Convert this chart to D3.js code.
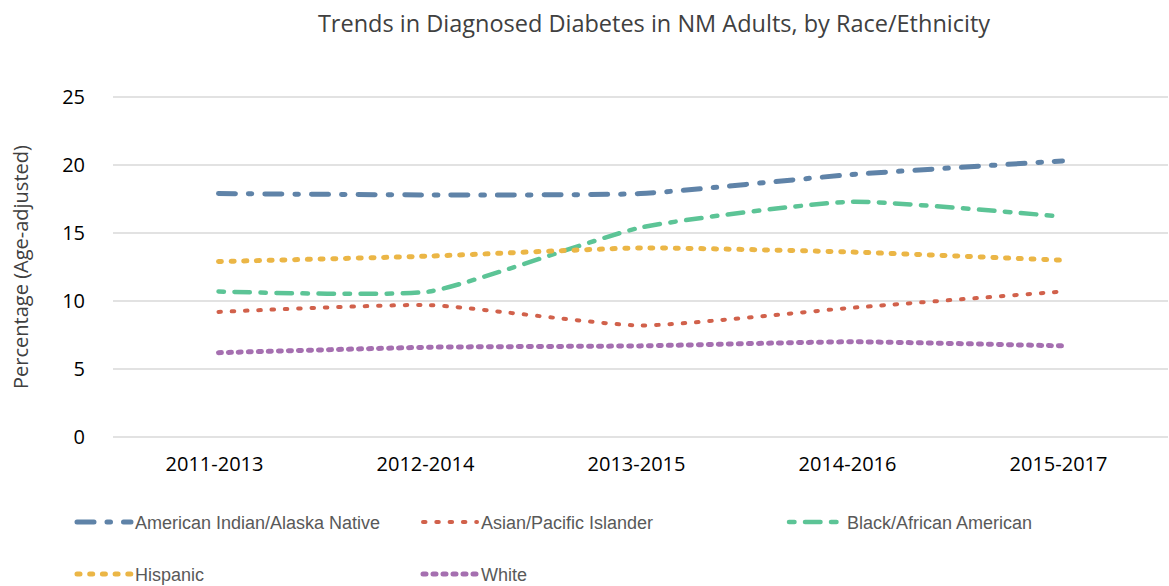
<!DOCTYPE html>
<html lang="en">
<head>
<meta charset="UTF-8">
<title>Diabetes trends</title>
<script src="https://cdn.jsdelivr.net/npm/d3@7"></script>
<style>
  body { margin: 0; background: #fff; }
  svg { display: block; }
</style>
</head>
<body>
<div id="chart"></div>
<script>
// data
var periods = ["2011-2013", "2012-2014", "2013-2015", "2014-2016", "2015-2017"];
var yTicks = [0, 5, 10, 15, 20, 25];
var aian = [17.9, 17.8, 17.9, 19.3, 20.3];
var asian = [9.2, 9.7, 8.2, 9.5, 10.7];
var black = [10.7, 10.7, 15.4, 17.3, 16.2];
var hispanic = [12.9, 13.3, 13.9, 13.6, 13.0];
var white = [6.2, 6.6, 6.7, 7.0, 6.7];

var seriesNames = ["American Indian/Alaska Native", "Asian/Pacific Islander", "Black/African American", "Hispanic", "White"];
var seriesValues = [aian, asian, black, hispanic, white];

var styles = [
  { color: "#5f83a8", width: 5, dash: "17,13,3.5,13" },
  { color: "#d1614b", width: 4, dash: "2.5,10.8" },
  { color: "#5cc496", width: 4.5, dash: "5.5,10.5,15.5,10.5" },
  { color: "#ebb646", width: 5, dash: "3,9.7" },
  { color: "#a56fb0", width: 5, dash: "3,7" }
];

var w = 1169, h = 586;
var plotLeft = 113, plotRight = 1168, plotTop = 97, plotBottom = 437;

var svg = d3.select("#chart").append("svg")
  .attr("width", w)
  .attr("height", h);

var x = d3.scaleBand()
  .domain(periods)
  .range([plotLeft, plotRight]);

var y = d3.scaleLinear()
  .domain([0, 25])
  .range([plotBottom, plotTop]);

// gridlines
svg.append("g")
  .selectAll("line")
  .data(yTicks)
  .enter()
  .append("line")
  .attr("x1", plotLeft)
  .attr("x2", plotRight)
  .attr("y1", function(d) { return y(d); })
  .attr("y2", function(d) { return y(d); })
  .attr("stroke", "#d9d9d9")
  .attr("stroke-width", 1.5);

// y tick labels
var yAxis = svg.append("g")
  .attr("transform", "translate(" + (plotLeft - 28) + ",0)")
  .call(d3.axisLeft(y).tickValues(yTicks).tickSize(0).tickPadding(0));
yAxis.select(".domain").remove();
yAxis.selectAll("text")
  .attr("font-family", "Open Sans")
  .attr("font-size", "20px")
  .attr("fill", "#000");

// x tick labels
var xAxis = svg.append("g")
  .attr("transform", "translate(-4," + plotBottom + ")")
  .call(d3.axisBottom(x).tickSize(0).tickPadding(20));
xAxis.select(".domain").remove();
xAxis.selectAll("text")
  .attr("font-family", "Open Sans")
  .attr("font-size", "20px")
  .attr("fill", "#000");

// lines, gently smoothed like the original
var line = d3.line()
  .x(function(d, i) { return x(periods[i]) + x.bandwidth() / 2; })
  .y(function(d) { return y(d); })
  .curve(d3.curveCardinal.tension(0.5));

svg.append("g")
  .selectAll("path")
  .data(seriesValues)
  .enter()
  .append("path")
  .attr("d", function(d) { return line(d); })
  .attr("fill", "none")
  .attr("stroke", function(d, i) { return styles[i].color; })
  .attr("stroke-width", function(d, i) { return styles[i].width; })
  .attr("stroke-dasharray", function(d, i) { return styles[i].dash; })
  .attr("stroke-linecap", "round");

// title
svg.append("text")
  .attr("x", 654)
  .attr("y", 32)
  .attr("text-anchor", "middle")
  .attr("font-family", "Open Sans")
  .attr("font-size", "23.5px")
  .attr("fill", "#404040")
  .text("Trends in Diagnosed Diabetes in NM Adults, by Race/Ethnicity");

// y axis title
svg.append("text")
  .attr("transform", "translate(28," + ((plotTop + plotBottom) / 2) + ") rotate(-90)")
  .attr("text-anchor", "middle")
  .attr("font-family", "Open Sans")
  .attr("font-size", "20px")
  .attr("fill", "#404040")
  .text("Percentage (Age-adjusted)");

// legend
var legendCols = [75, 421, 787];
var legendRows = [522, 574];
var legend = svg.append("g")
  .selectAll("g")
  .data(seriesNames)
  .enter()
  .append("g")
  .attr("transform", function(d, i) {
    return "translate(" + legendCols[i % 3] + "," + legendRows[Math.floor(i / 3)] + ")";
  });

legend.append("line")
  .attr("x1", 2)
  .attr("x2", 56)
  .attr("y1", 0)
  .attr("y2", 0)
  .attr("stroke", function(d, i) { return styles[i].color; })
  .attr("stroke-width", function(d, i) { return styles[i].width; })
  .attr("stroke-dasharray", function(d, i) { return styles[i].dash; })
  .attr("stroke-linecap", "round");

legend.append("text")
  .attr("x", 60)
  .attr("y", 7)
  .attr("font-family", "Liberation Sans")
  .attr("font-size", "18px")
  .attr("fill", "#595959")
  .text(function(d) { return d; });
</script>
</body>
</html>
